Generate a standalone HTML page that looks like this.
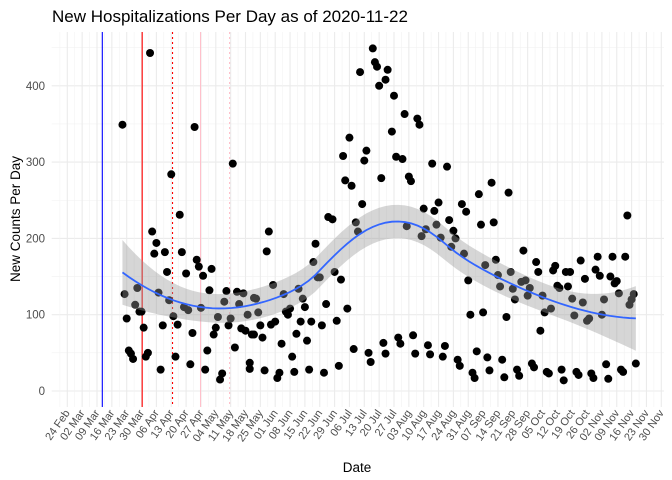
<!DOCTYPE html>
<html><head><meta charset="utf-8">
<style>
html,body{margin:0;padding:0;background:#fff;}
svg{display:block;font-family:"Liberation Sans",Arial,sans-serif;}
</style></head>
<body>
<svg id="chart" width="672" height="480" viewBox="0 0 672 480" xmlns="http://www.w3.org/2000/svg">
<text x="52" y="22" font-size="17" fill="#000">New Hospitalizations Per Day as of 2020-11-22</text>
<text transform="translate(20,219) rotate(-90)" text-anchor="middle" font-size="13.5" fill="#000">New Counts Per Day</text>
<text x="357" y="472" text-anchor="middle" font-size="13.5" fill="#000">Date</text>
<g id="grid"></g>
<g id="events"></g>
<g id="points"></g>
<g id="smooth"></g>
<g id="axes"></g>
</svg>
<script>
// Data: day offset from 24 Feb 2020, new hospitalizations
const days = [39,26,60,78,49,53,40,42,41,46,54,61,62,68,47,56,64,67,75,80,83,27,33,43,32,34,35,48,55,57,63,74,81,88,28,50,71,77,85,36,45,52,70,76,82,84,87,59,69,79,29,30,31,37,38,51,66,44,58,65,73,72,86,86,
144,145,146,138,150,147,133,141,130,140,148,131,134,139,123,125,136,137,95,94,117,116,126,118,119,129,97,109,102,89,111,122,112,105,103,104,90,132,91,96,98,110,115,120,127,88,92,108,113,101,106,135,142,143,149,150,93,100,99,107,114,121,128,
151,154,159,165,166,153,155,158,172,179,161,162,200,208,194,175,173,168,186,188,180,174,195,201,160,169,167,182,183,176,181,187,215,202,197,209,203,214,189,204,210,211,190,196,207,156,157,163,164,170,171,177,178,184,185,191,192,193,198,199,205,206,212,213,
264,221,222,230,229,235,237,242,250,257,263,249,251,244,256,259,258,231,232,236,216,218,217,224,238,243,253,260,267,266,265,228,225,239,246,245,252,223,219,220,226,227,233,234,240,241,247,248,254,255,261,262,268];
const counts = [443,349,346,298,284,231,209,194,180,182,182,172,163,160,156,154,151,132,131,130,128,127,135,129,113,104,104,119,110,106,109,117,114,122,95,98,97,95,100,83,86,87,83,86,82,79,74,76,74,57,53,49,42,45,50,45,53,28,35,28,23,15,29,37,
449,431,425,418,408,400,332,315,308,302,279,276,269,245,228,225,221,209,209,183,193,169,156,149,149,146,139,134,127,121,121,114,110,108,104,100,103,108,86,87,91,91,91,86,92,74,70,75,66,62,45,55,50,38,63,49,27,24,17,25,28,24,33,
421,387,363,357,349,340,307,304,298,294,281,275,273,260,258,247,236,239,245,235,224,218,218,221,216,212,203,210,200,201,189,180,184,172,165,156,152,143,145,137,134,120,100,103,97,70,62,73,49,60,48,45,59,41,33,24,17,52,44,27,41,18,28,20,
230,169,156,164,158,156,156,171,176,176,176,159,151,147,150,144,141,138,135,137,145,135,125,125,121,116,120,128,127,120,113,108,103,99,95,92,100,79,36,31,25,23,28,14,25,21,23,17,35,16,28,25,36];
const tickLabels = ["24 Feb","02 Mar","09 Mar","16 Mar","23 Mar","30 Mar","06 Apr","13 Apr","20 Apr","27 Apr","04 May","11 May","18 May","25 May","01 Jun","08 Jun","15 Jun","22 Jun","29 Jun","06 Jul","13 Jul","20 Jul","27 Jul","03 Aug","10 Aug","17 Aug","24 Aug","31 Aug","07 Sep","14 Sep","21 Sep","28 Sep","05 Oct","12 Oct","19 Oct","26 Oct","02 Nov","09 Nov","16 Nov","23 Nov","30 Nov"];
const yTicks = [0,100,200,300,400];
const eventDays = [16.5,35.3,49.6,62.8,76.5];
const eventColors = ["#0000ff","#ff0000","#ff0000","#ffc0cb","#ffc0cb"];
const eventDash = ["","","2,3","","2,3"];

const NS="http://www.w3.org/2000/svg";
const X=d=>67.3+d*594/280;
const Y=v=>391-v*0.763;
const PL=51.7,PR=664,PT=32,PB=407;
function mk(tag,attrs,parent){const e=document.createElementNS(NS,tag);for(const k in attrs)e.setAttribute(k,attrs[k]);parent.appendChild(e);return e;}

const grid=document.getElementById('grid');
// horizontal minor + major
for(let v=-50;v<=450;v+=50){const y=Y(v);if(y<PT||y>PB)continue;
  const l=mk('line',{x1:PL,x2:PR,y1:y,y2:y,stroke:v%100===0?'#ebebeb':'#f2f2f2','stroke-width':v%100===0?1.1:0.6},grid);
  
  
}
for(let d=-3.5;d<=283;d+=3.5){const x=X(d);if(x<PL||x>PR)continue;
  const major=Math.abs(d/7-Math.round(d/7))<1e-6;
  const l=mk('line',{x1:x,x2:x,y1:PT,y2:PB,stroke:major?'#ebebeb':'#f2f2f2','stroke-width':major?1.1:0.6},grid);
  
  
}
const ev=document.getElementById('events');
eventDays.forEach((d,i)=>{
  const l=mk('line',{x1:X(d),x2:X(d),y1:PT,y2:PB,stroke:eventColors[i],'stroke-width':1.1},ev);
  if(eventDash[i])l.setAttribute('stroke-dasharray',eventDash[i]);
  
  
});
const pts=document.getElementById('points');
days.forEach((d,i)=>{
  const c=mk('circle',{cx:X(d),cy:Y(counts[i]),r:4,fill:'#000'},pts);
  
  
});
// loess (span .75, degree 2) with SE band
function loessAt(x0,n,q){
  const ds=days.map(d=>Math.abs(d-x0));const sorted=ds.slice().sort((a,b)=>a-b);
  let h=sorted[q-1]*1.0001; if(h<=0)h=1;
  const S=[0,0,0,0,0],T=[0,0,0],w=[];
  for(let i=0;i<n;i++){const u=ds[i]/h;const wi=u<1?Math.pow(1-u*u*u,3):0;w.push(wi);
    const t=days[i]-x0;let p=1;for(let k=0;k<5;k++){S[k]+=wi*p;if(k<3)T[k]+=wi*p*counts[i];p*=t;}}
  const a=S[0],b=S[1],c=S[2],e=S[3],f=S[4];
  const A=[[a,b,c],[b,c,e],[c,e,f]];
  const det=a*(c*f-e*e)-b*(b*f-e*c)+c*(b*e-c*c);
  const r0=[(c*f-e*e)/det,-(b*f-c*e)/det,(b*e-c*c)/det];
  let fit=r0[0]*T[0]+r0[1]*T[1]+r0[2]*T[2];
  let ss=0;for(let i=0;i<n;i++){const t=days[i]-x0;const li=w[i]*(r0[0]+r0[1]*t+r0[2]*t*t);ss+=li*li;}
  return [fit,Math.sqrt(ss)];
}
const n=days.length,q=Math.floor(n*0.75);
let rss=0;for(let i=0;i<n;i++){const r=counts[i]-loessAt(days[i],n,q)[0];rss+=r*r;}
const sigma=Math.sqrt(rss/(n-5));
const dmin=Math.min(...days),dmax=Math.max(...days);
const fx=[],fy=[],lo=[],hi=[];
for(let k=0;k<=80;k++){const d=dmin+(dmax-dmin)*k/80;const [f,s]=loessAt(d,n,q);fx.push(d);fy.push(f);lo.push(f-1.97*sigma*s);hi.push(f+1.97*sigma*s);}
const sm=document.getElementById('smooth');
let band='M'+fx.map((d,i)=>X(d)+','+Y(hi[i])).join('L')+'L'+fx.slice().reverse().map((d,j)=>X(d)+','+Y(lo[fx.length-1-j])).join('L')+'Z';
const bp=mk('path',{d:band,fill:'#999999','fill-opacity':0.4,stroke:'none'},sm);


const lp=mk('path',{d:'M'+fx.map((d,i)=>X(d)+','+Y(fy[i])).join('L'),fill:'none',stroke:'#3366ff','stroke-width':1.8},sm);


const ax=document.getElementById('axes');
yTicks.forEach(v=>{
  const t=mk('text',{x:45,y:Y(v)+4,'text-anchor':'end','font-size':11.5,fill:'#4d4d4d'},ax);t.textContent=v;
  
  
});
tickLabels.forEach((lab,i)=>{
  const x=X(i*7)+3,y=413;
  const t=mk('text',{x:0,y:0,'text-anchor':'end','font-size':11,fill:'#4d4d4d',transform:`translate(${x},${y}) rotate(-55)`},ax);t.textContent=lab;
  
  
});
</script>
</body></html>
